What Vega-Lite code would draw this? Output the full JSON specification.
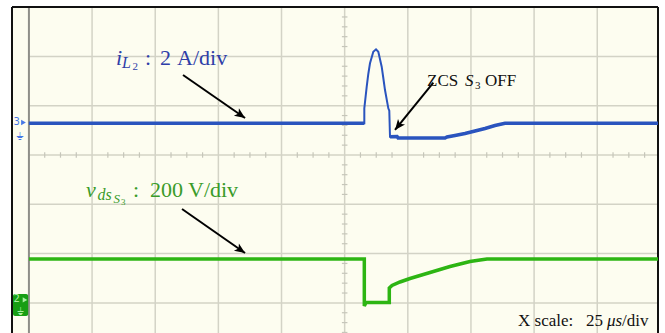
{
  "$schema": "https://vega.github.io/schema/vega-lite/v6.json",
  "width": 646,
  "height": 326,
  "autosize": {"type": "none"},
  "padding": {"left": 12, "top": 7, "right": 7, "bottom": 0},
  "background": "white",
  "view": {"fill": "#fdfdf0", "stroke": null},
  "config": {"axis": {"disable": true}},
  "datasets": {
    "blue": [
      {"i": 1, "t": -125, "v": 0.643, "seg": "pre"},
      {"i": 2, "t": 7.78, "v": 0.643, "seg": "pre"},
      {"i": 3, "t": 7.78, "v": 0.947, "seg": "pulse"},
      {"i": 4, "t": 8.73, "v": 1.385, "seg": "pulse"},
      {"i": 5, "t": 9.36, "v": 1.643, "seg": "pulse"},
      {"i": 6, "t": 10.03, "v": 1.86, "seg": "pulse"},
      {"i": 7, "t": 11.34, "v": 2.095, "seg": "pulse"},
      {"i": 8, "t": 12.41, "v": 2.144, "seg": "pulse"},
      {"i": 9, "t": 13.32, "v": 2.095, "seg": "pulse"},
      {"i": 10, "t": 14.66, "v": 1.791, "seg": "pulse"},
      {"i": 11, "t": 15.3, "v": 1.562, "seg": "pulse"},
      {"i": 12, "t": 15.97, "v": 1.318, "seg": "pulse"},
      {"i": 13, "t": 17.28, "v": 0.947, "seg": "pulse"},
      {"i": 14, "t": 17.67, "v": 0.899, "seg": "pulse"},
      {"i": 15, "t": 17.95, "v": 0.371, "seg": "post"},
      {"i": 16, "t": 20.75, "v": 0.375, "seg": "post"},
      {"i": 17, "t": 21.15, "v": 0.345, "seg": "post"},
      {"i": 18, "t": 39.75, "v": 0.345, "seg": "post"},
      {"i": 19, "t": 40.5, "v": 0.365, "seg": "post"},
      {"i": 20, "t": 43.68, "v": 0.396, "seg": "post"},
      {"i": 21, "t": 47.64, "v": 0.436, "seg": "post"},
      {"i": 22, "t": 51.6, "v": 0.487, "seg": "post"},
      {"i": 23, "t": 55.56, "v": 0.538, "seg": "post"},
      {"i": 24, "t": 59.52, "v": 0.598, "seg": "post"},
      {"i": 25, "t": 63.48, "v": 0.643, "seg": "post"},
      {"i": 26, "t": 124.05, "v": 0.643, "seg": "post"}
    ],
    "green": [
      {"i": 1, "t": -125, "v": -2.11},
      {"i": 2, "t": 7.78, "v": -2.11},
      {"i": 3, "t": 7.78, "v": -3.063},
      {"i": 4, "t": 8.45, "v": -2.992},
      {"i": 5, "t": 17.67, "v": -2.992},
      {"i": 6, "t": 17.67, "v": -2.698},
      {"i": 7, "t": 18.74, "v": -2.647},
      {"i": 8, "t": 21.91, "v": -2.576},
      {"i": 9, "t": 25.87, "v": -2.505},
      {"i": 10, "t": 29.83, "v": -2.444},
      {"i": 11, "t": 33.79, "v": -2.383},
      {"i": 12, "t": 37.75, "v": -2.323},
      {"i": 13, "t": 41.71, "v": -2.262},
      {"i": 14, "t": 45.67, "v": -2.211},
      {"i": 15, "t": 49.63, "v": -2.16},
      {"i": 16, "t": 53.59, "v": -2.13},
      {"i": 17, "t": 56.35, "v": -2.11},
      {"i": 18, "t": 124.05, "v": -2.11}
    ],
    "arrows": [
      {"name": "iL2", "t": -63.99, "v": 1.623, "t2": -39.44, "v2": 0.751},
      {"name": "vds", "t": -64.39, "v": -1.095, "t2": -39.44, "v2": -1.988},
      {"name": "zcs", "t": 35.1, "v": 1.467, "t2": 19.93, "v2": 0.507}
    ]
  },
  "layer": [
    {
      "data": {"values": [{"v": -3}, {"v": -2}, {"v": -1}, {"v": 0}, {"v": 1}, {"v": 2}]},
      "mark": {"type": "rule", "color": "#d3d3c6", "strokeWidth": 1.5},
      "encoding": {
        "y": {"field": "v", "type": "quantitative", "scale": {"domain": [-3.611, 3.002], "nice": false, "zero": false}},
        "x": {"datum": -125, "type": "quantitative", "scale": {"domain": [-131.7, 124.05], "nice": false, "zero": false}},
        "x2": {"datum": 124.05}
      }
    },
    {
      "data": {"values": [{"t": -100}, {"t": -75}, {"t": -50}, {"t": -25}, {"t": 0}, {"t": 25}, {"t": 50}, {"t": 75}, {"t": 100}]},
      "mark": {"type": "rule", "color": "#d3d3c6", "strokeWidth": 1.5},
      "encoding": {
        "x": {"field": "t", "type": "quantitative", "scale": {"domain": [-131.7, 124.05], "nice": false, "zero": false}}
      }
    },
    {
      "data": {"values": [
        {"t": -118.75}, {"t": -112.5}, {"t": -106.25}, {"t": -93.75}, {"t": -87.5}, {"t": -81.25},
        {"t": -68.75}, {"t": -62.5}, {"t": -56.25}, {"t": -43.75}, {"t": -37.5}, {"t": -31.25},
        {"t": -18.75}, {"t": -12.5}, {"t": -6.25}, {"t": 6.25}, {"t": 12.5}, {"t": 18.75},
        {"t": 31.25}, {"t": 37.5}, {"t": 43.75}, {"t": 56.25}, {"t": 62.5}, {"t": 68.75},
        {"t": 81.25}, {"t": 87.5}, {"t": 93.75}, {"t": 106.25}, {"t": 112.5}, {"t": 118.75}
      ]},
      "mark": {"type": "rule", "color": "#c6c6ba", "strokeWidth": 1.2},
      "encoding": {
        "x": {"field": "t", "type": "quantitative", "scale": {"domain": [-131.7, 124.05], "nice": false, "zero": false}},
        "y": {"datum": -0.055, "type": "quantitative", "scale": {"domain": [-3.611, 3.002], "nice": false, "zero": false}},
        "y2": {"datum": 0.055}
      }
    },
    {
      "data": {"values": [
        {"v": -3.6}, {"v": -3.4}, {"v": -3.2}, {"v": -2.8}, {"v": -2.6}, {"v": -2.4}, {"v": -2.2},
        {"v": -1.8}, {"v": -1.6}, {"v": -1.4}, {"v": -1.2}, {"v": -0.8}, {"v": -0.6}, {"v": -0.4}, {"v": -0.2},
        {"v": 0.2}, {"v": 0.4}, {"v": 0.6}, {"v": 0.8}, {"v": 1.2}, {"v": 1.4}, {"v": 1.6}, {"v": 1.8},
        {"v": 2.2}, {"v": 2.4}, {"v": 2.6}, {"v": 2.8}
      ]},
      "mark": {"type": "rule", "color": "#c6c6ba", "strokeWidth": 1.2},
      "encoding": {
        "y": {"field": "v", "type": "quantitative", "scale": {"domain": [-3.611, 3.002], "nice": false, "zero": false}},
        "x": {"datum": -1.1, "type": "quantitative", "scale": {"domain": [-131.7, 124.05], "nice": false, "zero": false}},
        "x2": {"datum": 1.1}
      }
    },
    {
      "data": {"values": [{"t": -125}]},
      "mark": {"type": "rule", "color": "#8e8e88", "strokeWidth": 2},
      "encoding": {
        "x": {"field": "t", "type": "quantitative", "scale": {"domain": [-131.7, 124.05], "nice": false, "zero": false}}
      }
    },
    {
      "data": {"values": [{"t": -131.7}, {"t": 124.05}]},
      "mark": {"type": "rule", "color": "#111111", "strokeWidth": 2},
      "encoding": {
        "x": {"field": "t", "type": "quantitative", "scale": {"domain": [-131.7, 124.05], "nice": false, "zero": false}}
      }
    },
    {
      "data": {"values": [{"v": 3.002}]},
      "mark": {"type": "rule", "color": "#111111", "strokeWidth": 2},
      "encoding": {
        "y": {"field": "v", "type": "quantitative", "scale": {"domain": [-3.611, 3.002], "nice": false, "zero": false}}
      }
    },
    {
      "data": {"name": "green"},
      "mark": {"type": "line", "color": "#2db513", "strokeWidth": 3.5, "strokeJoin": "miter"},
      "encoding": {
        "x": {"field": "t", "type": "quantitative", "scale": {"domain": [-131.7, 124.05], "nice": false, "zero": false}},
        "y": {"field": "v", "type": "quantitative", "scale": {"domain": [-3.611, 3.002], "nice": false, "zero": false}},
        "order": {"field": "i"}
      }
    },
    {
      "data": {"name": "blue"},
      "mark": {"type": "line", "color": "#2a54be", "strokeWidth": 2},
      "encoding": {
        "x": {"field": "t", "type": "quantitative", "scale": {"domain": [-131.7, 124.05], "nice": false, "zero": false}},
        "y": {"field": "v", "type": "quantitative", "scale": {"domain": [-3.611, 3.002], "nice": false, "zero": false}},
        "order": {"field": "i"}
      }
    },
    {
      "data": {"name": "blue"},
      "transform": [{"filter": "datum.seg != 'pulse'"}],
      "mark": {"type": "line", "color": "#2a54be", "strokeWidth": 3.5},
      "encoding": {
        "x": {"field": "t", "type": "quantitative", "scale": {"domain": [-131.7, 124.05], "nice": false, "zero": false}},
        "y": {"field": "v", "type": "quantitative", "scale": {"domain": [-3.611, 3.002], "nice": false, "zero": false}},
        "detail": {"field": "seg"},
        "order": {"field": "i"}
      }
    },
    {
      "data": {"name": "arrows"},
      "mark": {"type": "rule", "color": "#000000", "strokeWidth": 2},
      "encoding": {
        "x": {"field": "t", "type": "quantitative", "scale": {"domain": [-131.7, 124.05], "nice": false, "zero": false}},
        "y": {"field": "v", "type": "quantitative", "scale": {"domain": [-3.611, 3.002], "nice": false, "zero": false}},
        "x2": {"field": "t2"},
        "y2": {"field": "v2"}
      }
    },
    {
      "data": {"name": "arrows"},
      "transform": [{"filter": "datum.name != 'zcs'"}],
      "mark": {"type": "point", "shape": "M0,0L-2,-0.85L-1.5,0L-2,0.85Z", "size": 110, "filled": true, "color": "#000000", "opacity": 1, "angle": 34.5},
      "encoding": {
        "x": {"field": "t2", "type": "quantitative", "scale": {"domain": [-131.7, 124.05], "nice": false, "zero": false}},
        "y": {"field": "v2", "type": "quantitative", "scale": {"domain": [-3.611, 3.002], "nice": false, "zero": false}}
      }
    },
    {
      "data": {"name": "arrows"},
      "transform": [{"filter": "datum.name == 'zcs'"}],
      "mark": {"type": "point", "shape": "M0,0L-2,-0.85L-1.5,0L-2,0.85Z", "size": 110, "filled": true, "color": "#000000", "opacity": 1, "angle": 128.4},
      "encoding": {
        "x": {"field": "t2", "type": "quantitative", "scale": {"domain": [-131.7, 124.05], "nice": false, "zero": false}},
        "y": {"field": "v2", "type": "quantitative", "scale": {"domain": [-3.611, 3.002], "nice": false, "zero": false}}
      }
    },
    {
      "data": {"values": [{"t": -90.53, "v": 1.826, "s": "i"}]},
      "mark": {"type": "text", "font": "Liberation Serif", "fontStyle": "italic", "fontSize": 22, "color": "#2f3ea8", "align": "left", "baseline": "alphabetic"},
      "encoding": {
        "x": {"field": "t", "type": "quantitative", "scale": {"domain": [-131.7, 124.05], "nice": false, "zero": false}},
        "y": {"field": "v", "type": "quantitative", "scale": {"domain": [-3.611, 3.002], "nice": false, "zero": false}},
        "text": {"field": "s"}
      }
    },
    {
      "data": {"values": [{"t": -88.15, "v": 1.755, "s": "L"}]},
      "mark": {"type": "text", "font": "Liberation Serif", "fontStyle": "italic", "fontSize": 16, "color": "#2f3ea8", "align": "left", "baseline": "alphabetic"},
      "encoding": {
        "x": {"field": "t", "type": "quantitative", "scale": {"domain": [-131.7, 124.05], "nice": false, "zero": false}},
        "y": {"field": "v", "type": "quantitative", "scale": {"domain": [-3.611, 3.002], "nice": false, "zero": false}},
        "text": {"field": "s"}
      }
    },
    {
      "data": {"values": [{"t": -83.99, "v": 1.714, "s": "2"}]},
      "mark": {"type": "text", "font": "Liberation Serif", "fontSize": 11, "color": "#2f3ea8", "align": "left", "baseline": "alphabetic"},
      "encoding": {
        "x": {"field": "t", "type": "quantitative", "scale": {"domain": [-131.7, 124.05], "nice": false, "zero": false}},
        "y": {"field": "v", "type": "quantitative", "scale": {"domain": [-3.611, 3.002], "nice": false, "zero": false}},
        "text": {"field": "s"}
      }
    },
    {
      "data": {"values": [{"t": -79.04, "v": 1.826, "s": ":"}, {"t": -73.11, "v": 1.826, "s": "2"}, {"t": -66.37, "v": 1.826, "s": "A/div"}]},
      "mark": {"type": "text", "font": "Liberation Serif", "fontSize": 22, "color": "#2f3ea8", "align": "left", "baseline": "alphabetic"},
      "encoding": {
        "x": {"field": "t", "type": "quantitative", "scale": {"domain": [-131.7, 124.05], "nice": false, "zero": false}},
        "y": {"field": "v", "type": "quantitative", "scale": {"domain": [-3.611, 3.002], "nice": false, "zero": false}},
        "text": {"field": "s"}
      }
    },
    {
      "data": {"values": [{"t": -102.41, "v": -0.852, "s": "v"}]},
      "mark": {"type": "text", "font": "Liberation Serif", "fontStyle": "italic", "fontSize": 22, "color": "#3a9b2a", "align": "left", "baseline": "alphabetic"},
      "encoding": {
        "x": {"field": "t", "type": "quantitative", "scale": {"domain": [-131.7, 124.05], "nice": false, "zero": false}},
        "y": {"field": "v", "type": "quantitative", "scale": {"domain": [-3.611, 3.002], "nice": false, "zero": false}},
        "text": {"field": "s"}
      }
    },
    {
      "data": {"values": [{"t": -97.85, "v": -0.913, "s": "ds"}]},
      "mark": {"type": "text", "font": "Liberation Serif", "fontStyle": "italic", "fontSize": 16, "color": "#3a9b2a", "align": "left", "baseline": "alphabetic"},
      "encoding": {
        "x": {"field": "t", "type": "quantitative", "scale": {"domain": [-131.7, 124.05], "nice": false, "zero": false}},
        "y": {"field": "v", "type": "quantitative", "scale": {"domain": [-3.611, 3.002], "nice": false, "zero": false}},
        "text": {"field": "s"}
      }
    },
    {
      "data": {"values": [{"t": -91.52, "v": -0.984, "s": "S"}]},
      "mark": {"type": "text", "font": "Liberation Serif", "fontStyle": "italic", "fontSize": 13, "color": "#3a9b2a", "align": "left", "baseline": "alphabetic"},
      "encoding": {
        "x": {"field": "t", "type": "quantitative", "scale": {"domain": [-131.7, 124.05], "nice": false, "zero": false}},
        "y": {"field": "v", "type": "quantitative", "scale": {"domain": [-3.611, 3.002], "nice": false, "zero": false}},
        "text": {"field": "s"}
      }
    },
    {
      "data": {"values": [{"t": -88.55, "v": -1.024, "s": "3"}]},
      "mark": {"type": "text", "font": "Liberation Serif", "fontSize": 9, "color": "#3a9b2a", "align": "left", "baseline": "alphabetic"},
      "encoding": {
        "x": {"field": "t", "type": "quantitative", "scale": {"domain": [-131.7, 124.05], "nice": false, "zero": false}},
        "y": {"field": "v", "type": "quantitative", "scale": {"domain": [-3.611, 3.002], "nice": false, "zero": false}},
        "text": {"field": "s"}
      }
    },
    {
      "data": {"values": [{"t": -83.8, "v": -0.852, "s": ":"}, {"t": -77.07, "v": -0.852, "s": "200"}, {"t": -62.02, "v": -0.852, "s": "V/div"}]},
      "mark": {"type": "text", "font": "Liberation Serif", "fontSize": 22, "color": "#3a9b2a", "align": "left", "baseline": "alphabetic"},
      "encoding": {
        "x": {"field": "t", "type": "quantitative", "scale": {"domain": [-131.7, 124.05], "nice": false, "zero": false}},
        "y": {"field": "v", "type": "quantitative", "scale": {"domain": [-3.611, 3.002], "nice": false, "zero": false}},
        "text": {"field": "s"}
      }
    },
    {
      "data": {"values": [{"t": 32.6, "v": 1.406, "s": "ZCS"}, {"t": 55.56, "v": 1.406, "s": "OFF"}, {"t": 68.63, "v": -3.469, "s": "X scale:"}, {"t": 95.55, "v": -3.469, "s": "25"}, {"t": 109.8, "v": -3.469, "s": "/div"}]},
      "mark": {"type": "text", "font": "Liberation Serif", "fontSize": 17, "color": "#111111", "align": "left", "baseline": "alphabetic"},
      "encoding": {
        "x": {"field": "t", "type": "quantitative", "scale": {"domain": [-131.7, 124.05], "nice": false, "zero": false}},
        "y": {"field": "v", "type": "quantitative", "scale": {"domain": [-3.611, 3.002], "nice": false, "zero": false}},
        "text": {"field": "s"}
      }
    },
    {
      "data": {"values": [{"t": 47.65, "v": 1.406, "s": "S"}, {"t": 103.86, "v": -3.469, "s": "μs"}]},
      "mark": {"type": "text", "font": "Liberation Serif", "fontStyle": "italic", "fontSize": 17, "color": "#111111", "align": "left", "baseline": "alphabetic"},
      "encoding": {
        "x": {"field": "t", "type": "quantitative", "scale": {"domain": [-131.7, 124.05], "nice": false, "zero": false}},
        "y": {"field": "v", "type": "quantitative", "scale": {"domain": [-3.611, 3.002], "nice": false, "zero": false}},
        "text": {"field": "s"}
      }
    },
    {
      "data": {"values": [{"t": 51.6, "v": 1.339, "s": "3"}]},
      "mark": {"type": "text", "font": "Liberation Serif", "fontSize": 11, "color": "#111111", "align": "left", "baseline": "alphabetic"},
      "encoding": {
        "x": {"field": "t", "type": "quantitative", "scale": {"domain": [-131.7, 124.05], "nice": false, "zero": false}},
        "y": {"field": "v", "type": "quantitative", "scale": {"domain": [-3.611, 3.002], "nice": false, "zero": false}},
        "text": {"field": "s"}
      }
    },
    {
      "data": {"values": [{"t": -131.3, "v": -2.82, "t2": -125.3, "v2": -3.266}]},
      "mark": {"type": "rect", "color": "#179e14", "cornerRadius": 2},
      "encoding": {
        "x": {"field": "t", "type": "quantitative", "scale": {"domain": [-131.7, 124.05], "nice": false, "zero": false}},
        "y": {"field": "v", "type": "quantitative", "scale": {"domain": [-3.611, 3.002], "nice": false, "zero": false}},
        "x2": {"field": "t2"},
        "y2": {"field": "v2"}
      }
    },
    {
      "data": {"values": [{"t": -131.1, "v": 0.609, "s": "3"}]},
      "mark": {"type": "text", "font": "DejaVu Sans", "fontSize": 10, "color": "#4677e6", "align": "left", "baseline": "alphabetic"},
      "encoding": {
        "x": {"field": "t", "type": "quantitative", "scale": {"domain": [-131.7, 124.05], "nice": false, "zero": false}},
        "y": {"field": "v", "type": "quantitative", "scale": {"domain": [-3.611, 3.002], "nice": false, "zero": false}},
        "text": {"field": "s"}
      }
    },
    {
      "data": {"values": [{"t": -129.92, "v": 0.3, "s": "⏚"}]},
      "mark": {"type": "text", "font": "DejaVu Sans", "fontSize": 11, "color": "#4677e6", "align": "left", "baseline": "alphabetic"},
      "encoding": {
        "x": {"field": "t", "type": "quantitative", "scale": {"domain": [-131.7, 124.05], "nice": false, "zero": false}},
        "y": {"field": "v", "type": "quantitative", "scale": {"domain": [-3.611, 3.002], "nice": false, "zero": false}},
        "text": {"field": "s"}
      }
    },
    {
      "data": {"values": [{"t": -127.15, "v": 0.659}]},
      "mark": {"type": "point", "shape": "triangle-right", "size": 30, "filled": true, "color": "#4677e6", "opacity": 1},
      "encoding": {
        "x": {"field": "t", "type": "quantitative", "scale": {"domain": [-131.7, 124.05], "nice": false, "zero": false}},
        "y": {"field": "v", "type": "quantitative", "scale": {"domain": [-3.611, 3.002], "nice": false, "zero": false}}
      }
    },
    {
      "data": {"values": [{"t": -131.1, "v": -2.982, "s": "2"}]},
      "mark": {"type": "text", "font": "DejaVu Sans", "fontSize": 10, "color": "#a8f0a0", "align": "left", "baseline": "alphabetic"},
      "encoding": {
        "x": {"field": "t", "type": "quantitative", "scale": {"domain": [-131.7, 124.05], "nice": false, "zero": false}},
        "y": {"field": "v", "type": "quantitative", "scale": {"domain": [-3.611, 3.002], "nice": false, "zero": false}},
        "text": {"field": "s"}
      }
    },
    {
      "data": {"values": [{"t": -129.72, "v": -3.25, "s": "⏚"}]},
      "mark": {"type": "text", "font": "DejaVu Sans", "fontSize": 10, "color": "#a8f0a0", "align": "left", "baseline": "alphabetic"},
      "encoding": {
        "x": {"field": "t", "type": "quantitative", "scale": {"domain": [-131.7, 124.05], "nice": false, "zero": false}},
        "y": {"field": "v", "type": "quantitative", "scale": {"domain": [-3.611, 3.002], "nice": false, "zero": false}},
        "text": {"field": "s"}
      }
    },
    {
      "data": {"values": [{"t": -126.55, "v": -2.941}]},
      "mark": {"type": "point", "shape": "triangle-right", "size": 28, "filled": true, "color": "#a8f0a0", "opacity": 1},
      "encoding": {
        "x": {"field": "t", "type": "quantitative", "scale": {"domain": [-131.7, 124.05], "nice": false, "zero": false}},
        "y": {"field": "v", "type": "quantitative", "scale": {"domain": [-3.611, 3.002], "nice": false, "zero": false}}
      }
    }
  ]
}
